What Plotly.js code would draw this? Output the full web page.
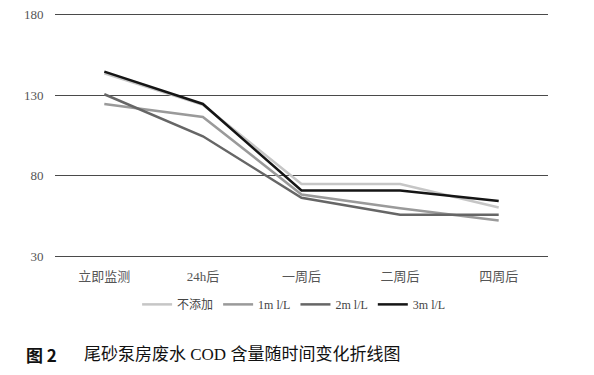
<!DOCTYPE html>
<html>
<head>
<meta charset="utf-8">
<script src="https://cdn.plot.ly/plotly-3.0.1.min.js"></script>
<style>html,body{margin:0;padding:0;background:#fff;}#chart{width:594px;height:375px;}</style>
</head>
<body>
<div id="chart"></div>
<script>
var categories = ["立即监测", "24h后", "一周后", "二周后", "四周后"];
var seriesNames = ["不添加", "1m l/L", "2m l/L", "3m l/L"];
var none = [143.5, 124, 75, 75, 60.5];
var ml1 = [124.5, 116.5, 68.5, 60, 52.5];
var ml2 = [130.5, 104.5, 66.5, 56, 56];
var ml3 = [144.5, 124.5, 71, 71, 64.5];
var yTicks = [30, 80, 130, 180];

var colors = ["#c6c6c6", "#9a9a9a", "#666666", "#151515"];
var data = [none, ml1, ml2, ml3];
var serif = "Liberation Serif, 'DejaVu Serif', 'Noto Sans CJK SC', serif";

var traces = data.map(function (vals, i) {
  return {
    x: categories, y: vals, name: seriesNames[i], type: "scatter", mode: "lines",
    line: {color: colors[i], width: 2.5}
  };
});

var layout = {
  width: 594, height: 375,
  margin: {l: 55, r: 46, t: 10.8, b: 114.8},
  paper_bgcolor: "#fff", plot_bgcolor: "#fff",
  showlegend: true,
  legend: {
    orientation: "h", x: 0.485, xanchor: "center", y: -0.12, yanchor: "top",
    font: {family: serif, size: 12, color: "#444"},
    itemwidth: 30, tracegroupgap: 0, traceorder: "normal"
  },
  xaxis: {
    type: "category", range: [-0.5, 4.5], showgrid: false, zeroline: false,
    showline: false, ticks: "outside", ticklen: 4, tickcolor: "rgba(0,0,0,0)",
    tickfont: {family: serif, size: 13, color: "#555"}
  },
  yaxis: {
    range: [28, 182], tickvals: yTicks, showgrid: true, gridcolor: "#4a4a4a", gridwidth: 1,
    zeroline: false, showline: false, ticks: "outside", ticklen: 8, tickcolor: "rgba(0,0,0,0)",
    tickfont: {family: serif, size: 13, color: "#555"}
  },
  annotations: [
    {text: "<b>图 2</b>", xref: "paper", yref: "paper", x: -0.063, y: -0.38, xanchor: "left", yanchor: "middle",
     showarrow: false, font: {family: "'Noto Sans CJK SC', sans-serif", size: 17, color: "#111"}},
    {text: "尾砂泵房废水 COD 含量随时间变化折线图", xref: "paper", yref: "paper", x: 0.055, y: -0.38, xanchor: "left", yanchor: "middle",
     showarrow: false, font: {family: serif, size: 17, color: "#111"}}
  ]
};

Plotly.newPlot("chart", traces, layout, {displayModeBar: false, staticPlot: true});
</script>
</body>
</html>
